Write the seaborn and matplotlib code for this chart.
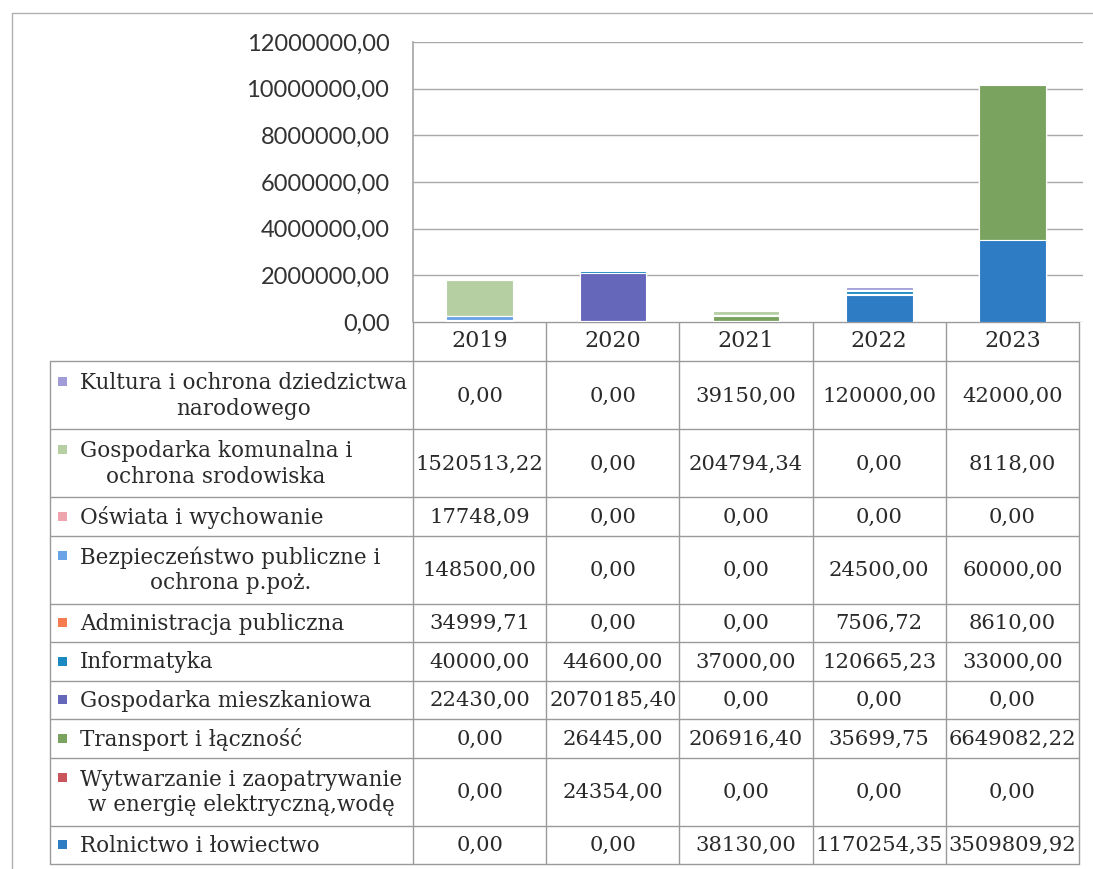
import matplotlib
matplotlib.use("Agg")
import matplotlib.pyplot as plt
from matplotlib.patches import Rectangle
from matplotlib.ticker import FuncFormatter
import numpy as np
import pandas as pd
import seaborn as sns

years = ["2019", "2020", "2021", "2022", "2023"]

# table order (top to bottom); bars stack in the reverse order
categories = [
    "Kultura i ochrona dziedzictwa\nnarodowego",
    "Gospodarka komunalna i\nochrona srodowiska",
    "Oświata i wychowanie",
    "Bezpieczeństwo publiczne i\nochrona p.poż.",
    "Administracja publiczna",
    "Informatyka",
    "Gospodarka mieszkaniowa",
    "Transport i łączność",
    "Wytwarzanie i zaopatrywanie\nw energię elektryczną,wodę",
    "Rolnictwo i łowiectwo",
]

kultura = [0.00, 0.00, 39150.00, 120000.00, 42000.00]
gosp_komunalna = [1520513.22, 0.00, 204794.34, 0.00, 8118.00]
oswiata = [17748.09, 0.00, 0.00, 0.00, 0.00]
bezpieczenstwo = [148500.00, 0.00, 0.00, 24500.00, 60000.00]
administracja = [34999.71, 0.00, 0.00, 7506.72, 8610.00]
informatyka = [40000.00, 44600.00, 37000.00, 120665.23, 33000.00]
gosp_mieszkaniowa = [22430.00, 2070185.40, 0.00, 0.00, 0.00]
transport = [0.00, 26445.00, 206916.40, 35699.75, 6649082.22]
wytwarzanie = [0.00, 24354.00, 0.00, 0.00, 0.00]
rolnictwo = [0.00, 0.00, 38130.00, 1170254.35, 3509809.92]

series = [kultura, gosp_komunalna, oswiata, bezpieczenstwo, administracja,
          informatyka, gosp_mieszkaniowa, transport, wytwarzanie, rolnictwo]

colors = ["#a09cd8", "#b5cfa3", "#eea5ad", "#6aa4e6", "#f47c50",
          "#1a8ac0", "#6567bb", "#7aa360", "#c9545c", "#2e7cc3"]

y_ticks = [0, 2000000, 4000000, 6000000, 8000000, 10000000, 12000000]

sns.set_theme(style="white")
plt.rcParams["font.family"] = ["DejaVu Serif"]

W, H = 1093, 869
fig = plt.figure(figsize=(W / 100, H / 100), dpi=100)

# layout in pixels
ax_left, ax_right, ax_top, ax_bottom = 413, 1083, 42, 322
tab_left, col_w = 50, 133.2
ax = fig.add_axes([ax_left / W, 1 - ax_bottom / H,
                   (ax_right - ax_left) / W, (ax_bottom - ax_top) / H])

# stacked bars: cumulative totals drawn from the top layer downwards
df = pd.DataFrame(np.array(series).T, columns=categories)
df["year"] = years
stack = categories[::-1]
cum = df[stack].cumsum(axis=1)
for cat in categories:
    i = categories.index(cat)
    sns.barplot(x=df["year"], y=cum[cat], color=colors[i], width=0.5,
                saturation=1, edgecolor="white", linewidth=0.8, ax=ax)

ax.set_xlim(-0.5, -0.5 + (ax_right - ax_left) / col_w)
ax.set_ylim(0, 12000000)
ax.set_yticks(y_ticks)
ax.yaxis.set_major_formatter(FuncFormatter(lambda v, p: f"{v:.2f}".replace(".", ",")))
ax.set_xlabel("")
ax.set_ylabel("")
ax.grid(axis="y", color="#a8a8a8", linewidth=1)
ax.set_axisbelow(True)
for s in ["top", "right", "bottom"]:
    ax.spines[s].set_visible(False)
ax.spines["left"].set_color("#a8a8a8")
ax.tick_params(axis="y", length=0, pad=17, labelsize=17, labelcolor="#333333")
for lab in ax.get_yticklabels():
    lab.set_fontfamily("Lato")
ax.tick_params(axis="x", length=0, pad=6, labelsize=16, labelcolor="#2a2a2a")

# data table drawn on an overlay in pixel coordinates
tab = fig.add_axes([0, 0, 1, 1], zorder=-1)
tab.set_xlim(0, W)
tab.set_ylim(H, 0)
tab.axis("off")

line_kw = dict(color="#9a9a9a", linewidth=1)
grid_col = "#b0b0b0"
# outer frame of the page
tab.plot([12, 12], [13, H], color=grid_col, linewidth=1)
tab.plot([12, W], [13, 13], color=grid_col, linewidth=1)

col_x = [ax_left + col_w * k for k in range(len(years) + 1)]
header_top, header_bot = ax_bottom, 361
row_h = [68 if "\n" in c else 38.5 for c in categories]
row_y = np.concatenate([[header_bot], header_bot + np.cumsum(row_h)])
tab_bottom = row_y[-1]

# header row (years) box
tab.plot([col_x[0], col_x[-1]], [header_top, header_top], **line_kw)
for x in col_x:
    tab.plot([x, x], [header_top, tab_bottom], **line_kw)
tab.plot([tab_left, tab_left], [header_bot, tab_bottom], **line_kw)
for y in row_y:
    tab.plot([tab_left, col_x[-1]], [y, y], **line_kw)

for r, cat in enumerate(categories):
    top, bot = row_y[r], row_y[r + 1]
    mid = (top + bot) / 2
    key_y = top + 20 if "\n" in cat else mid
    tab.add_patch(Rectangle((58, key_y - 4.5), 9, 9, color=colors[r], lw=0))
    tab.text(80, mid + 1, cat, ha="left", va="center", multialignment="center",
             fontsize=15.5, color="#2a2a2a", linespacing=1.2)
    for k, v in enumerate(series[r]):
        txt = f"{v:.2f}".replace(".", ",")
        tab.text(col_x[k] + col_w / 2, mid + 1, txt, ha="center", va="center",
                 fontsize=15.2, color="#2a2a2a")

fig.savefig("out.png", dpi=100)
plt.close(fig)
